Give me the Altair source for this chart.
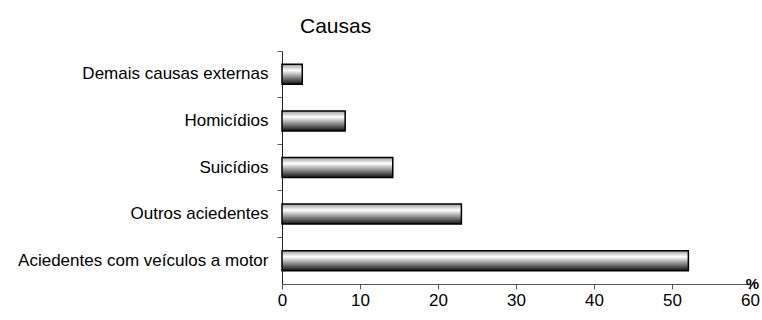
import altair as alt
import pandas as pd

categories = ["Demais causas externas", "Homicídios", "Suicídios",
              "Outros aciedentes", "Aciedentes com veículos a motor"]
values = [2.6, 8.1, 14.2, 23.0, 52.1]

df = pd.DataFrame({"causa": categories, "pct": values})

FONT = "Liberation Sans"

grad = alt.Gradient(
    gradient="linear", x1=0, x2=0, y1=0, y2=1,
    stops=[alt.GradientStop(color="#9a9a9a", offset=0),
           alt.GradientStop(color="#ffffff", offset=0.3),
           alt.GradientStop(color="#111111", offset=1)],
)

chart = alt.Chart(df).mark_bar(
    color=grad, stroke="black", strokeWidth=1.5, size=20
).encode(
    x=alt.X("pct:Q", scale=alt.Scale(domain=[0, 60], nice=False),
            axis=alt.Axis(values=[0, 10, 20, 30, 40, 50, 60], title="%",
                          titleX=470, titleY=-1, titleAlign="center",
                          titleBaseline="middle", titleFontSize=15,
                          titleFont=FONT, titleFontWeight="bold",
                          labelFont=FONT, labelFontSize=17, labelColor="black",
                          tickSize=5, tickColor="#555", domainColor="#555",
                          labelPadding=3, grid=False, labelFlush=False)),
    y=alt.Y("causa:N", sort=categories,
            scale=alt.Scale(paddingInner=0, paddingOuter=0),
            axis=alt.Axis(title=None, labelFont=FONT, labelFontSize=17,
                          labelColor="black", tickSize=5, tickColor="#555",
                          domainColor="#222", labelPadding=9,
                          bandPosition=0, labelLimit=400)),
).properties(
    width=468, height=233,
    title=alt.TitleParams("Causas", anchor="start", frame="group", dx=18,
                          dy=24, fontSize=21, font=FONT, fontWeight="normal",
                          baseline="alphabetic", offset=21, color="black"),
    autosize=alt.AutoSizeParams(type="none"),
    padding={"left": 282, "top": 51, "right": 12, "bottom": 36},
).configure_view(stroke=None)

chart.save("out.html", embed_options={"renderer": "svg", "actions": False})
